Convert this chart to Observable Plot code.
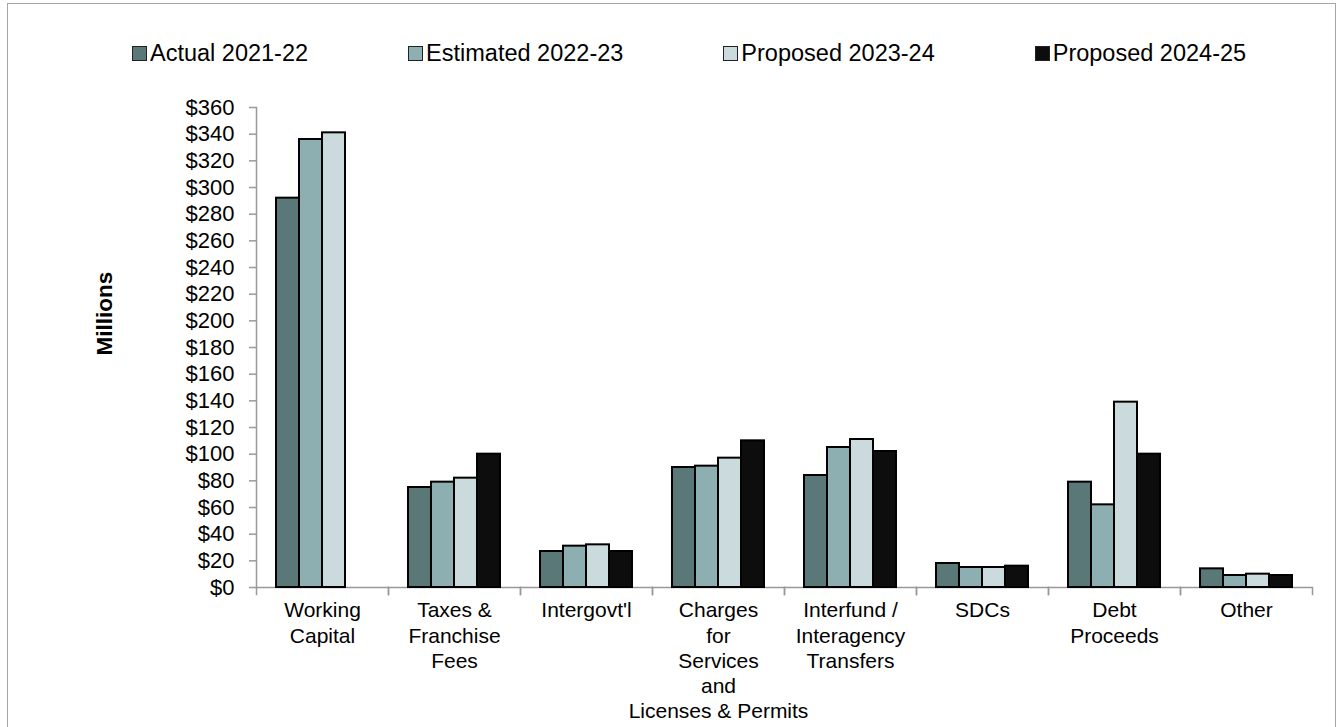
<!DOCTYPE html>
<html>
<head>
<meta charset="utf-8">
<script src="https://cdn.jsdelivr.net/npm/d3@7"></script>
<script src="https://cdn.jsdelivr.net/npm/@observablehq/plot@0.6"></script>
<style>
  body { margin: 0; background: #fff; font-family: "Liberation Sans", Arial, sans-serif; }
  #wrap { position: relative; width: 1338px; height: 727px; overflow: hidden; }
  #border { position: absolute; left: 7px; top: 3px; width: 1329px; height: 800px; border: 1.5px solid #a6a6a6; box-sizing: border-box; pointer-events: none; }
  #legend { position: absolute; left: 132px; top: 40px; display: flex; gap: 100px; font-size: 23.5px; line-height: 26px; color: #000; }
  .item { display: flex; align-items: center; white-space: nowrap; }
  .sw { width: 15px; height: 15px; border: 1.5px solid #222; box-sizing: border-box; margin-right: 3px; }
  #chart { position: absolute; left: 0; top: 90px; }
</style>
</head>
<body>
<div id="wrap">
  <div id="legend"></div>
  <div id="chart"></div>
  <div id="border"></div>
</div>
<script>
// ---- data ----
const categories = [
  "Working\nCapital",
  "Taxes &\nFranchise\nFees",
  "Intergovt'l",
  "Charges\nfor\nServices\nand\nLicenses & Permits",
  "Interfund /\nInteragency\nTransfers",
  "SDCs",
  "Debt\nProceeds",
  "Other"
];
const series = ["Actual 2021-22", "Estimated 2022-23", "Proposed 2023-24", "Proposed 2024-25"];
const actual2122    = [292,  75, 27,  90,  84, 18,  79, 14];
const estimated2223 = [336,  79, 31,  91, 105, 15,  62,  9];
const proposed2324  = [341,  82, 32,  97, 111, 15, 139, 10];
const proposed2425  = [null, 100, 27, 110, 102, 16, 100,  9];
const colors = ["#5b7878", "#8eafb2", "#cbdadd", "#0d0d0d"];
const yTicks = [0, 20, 40, 60, 80, 100, 120, 140, 160, 180, 200, 220, 240, 260, 280, 300, 320, 340, 360];
const yLabel = "Millions";

const seriesValues = [actual2122, estimated2223, proposed2324, proposed2425];
const rows = [];
categories.forEach((c, i) => {
  series.forEach((s, j) => {
    const v = seriesValues[j][i];
    if (v != null) rows.push({category: c, series: s, value: v});
  });
});

// ---- legend ----
const legend = document.getElementById("legend");
series.forEach((s, j) => {
  const it = document.createElement("div");
  it.className = "item";
  const sw = document.createElement("span");
  sw.className = "sw";
  sw.style.background = colors[j];
  const tx = document.createElement("span");
  tx.textContent = s;
  it.appendChild(sw); it.appendChild(tx);
  legend.appendChild(it);
});

// ---- chart ----
const W = 1338, H = 637;
const mT = 17, mB = 140, mL = 253, mR = 24;
const plotH = H - mT - mB;
const axisGray = "#999";

const chart = Plot.plot({
  width: W, height: H,
  marginTop: mT, marginBottom: mB, marginLeft: mL, marginRight: mR,
  style: {fontFamily: "'Liberation Sans', Arial, sans-serif", color: "#000", background: "transparent"},
  fx: {domain: categories, padding: 0, label: null},
  x: {domain: series, paddingInner: 0, paddingOuter: 0.7625, axis: null},
  y: {domain: [0, 360], label: null},
  color: {domain: series, range: colors},
  marks: [
    Plot.ruleY([0], {stroke: axisGray, strokeWidth: 1.5}),
    Plot.frame({anchor: "left", stroke: axisGray, strokeWidth: 1.5, insetTop: plotH, insetBottom: -7}),
    Plot.frame({anchor: "right", stroke: axisGray, strokeWidth: 1.5, insetTop: plotH, insetBottom: -7}),
    Plot.frame({anchor: "left", facetAnchor: "left", stroke: axisGray, strokeWidth: 1.5}),
    Plot.barY(rows, {fx: "category", x: "series", y: "value", fill: "series", stroke: "#000", strokeWidth: 2}),
    Plot.axisY({ticks: yTicks, tickSize: 7, tickPadding: 15, stroke: axisGray, strokeWidth: 1.5, text: null, label: null}),
    Plot.axisY({ticks: yTicks, tickSize: 7, tickPadding: 15, tickFormat: d => "$" + d, fontSize: 22, label: null, stroke: null}),
    Plot.axisFx({anchor: "bottom", tickSize: 0, tickPadding: 12, fontSize: 21, lineHeight: 1.2, label: null}),
    Plot.text([yLabel], {facetAnchor: "left", frameAnchor: "left", textAnchor: "middle", rotate: -90, dx: -152, dy: -34, fontWeight: "bold", fontSize: 22.5, fill: "#000"})
  ]
});
document.getElementById("chart").appendChild(chart);
</script>
</body>
</html>
